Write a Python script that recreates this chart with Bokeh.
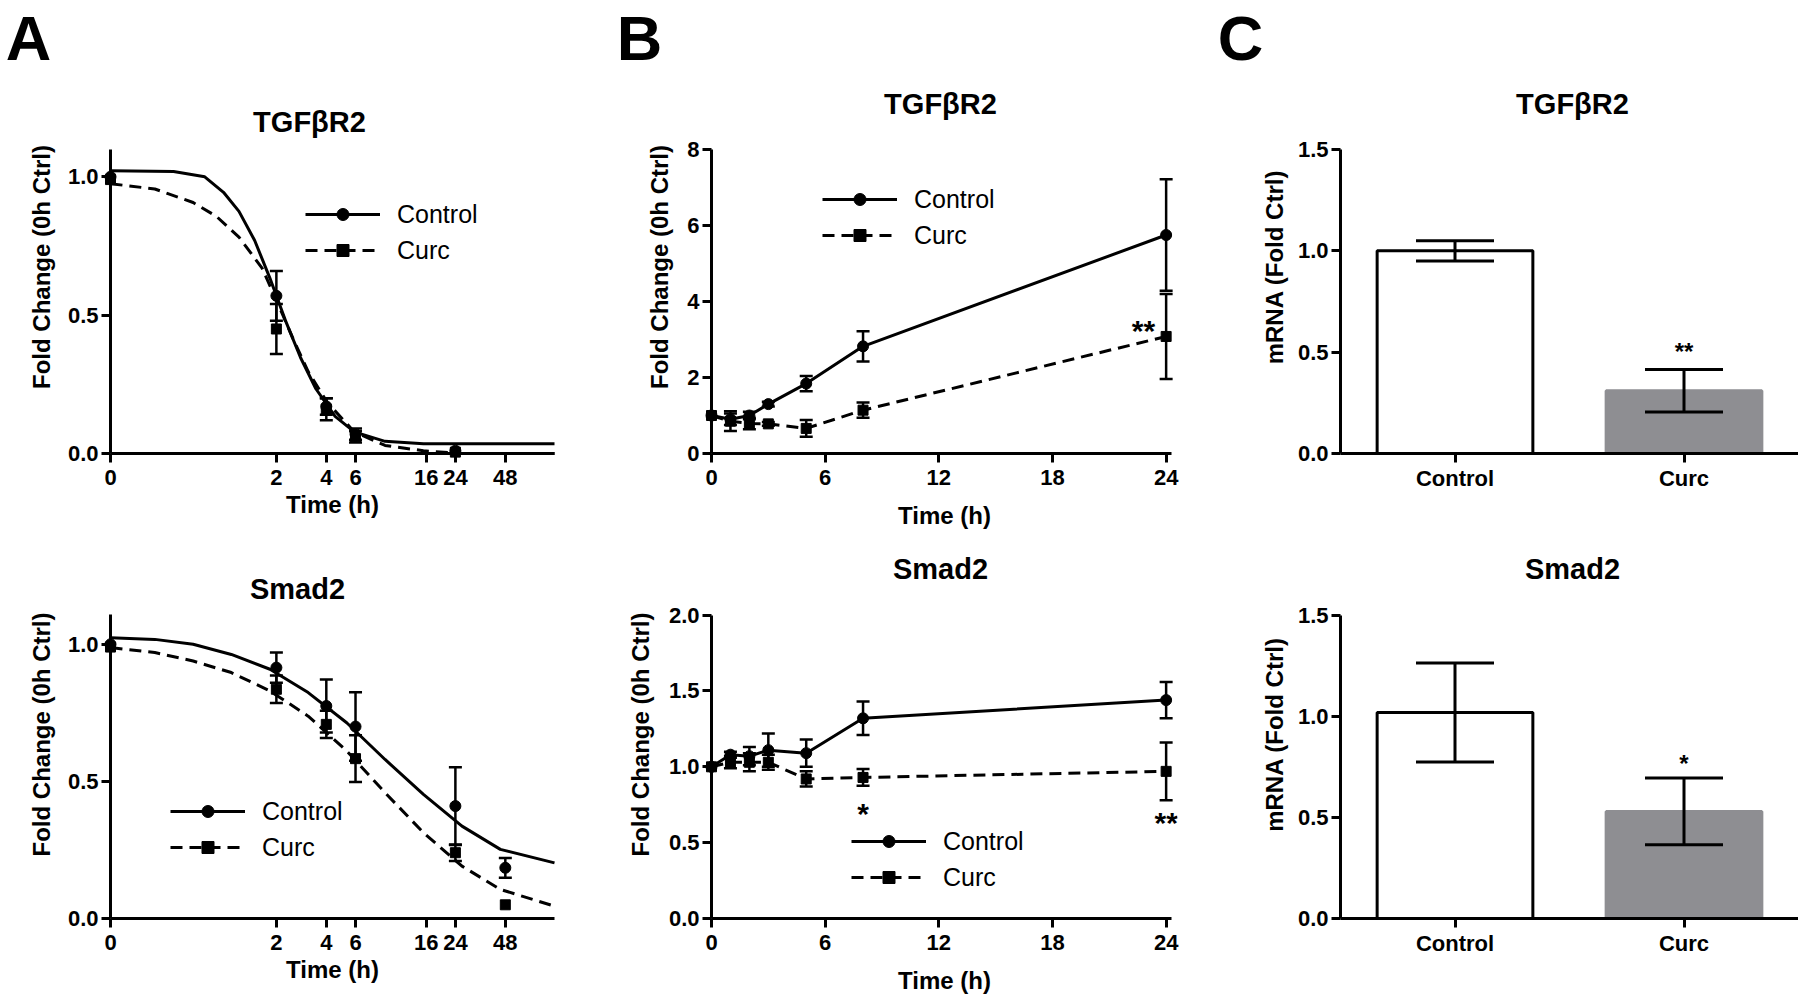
from bokeh.plotting import figure
from bokeh.layouts import row, column
from bokeh.models import (Range1d, FactorRange, FixedTicker, PrintfTickFormatter,
                          CustomJSTickFormatter, Legend, LegendItem, Whisker,
                          TeeHead, ColumnDataSource)
from bokeh.core.properties import value
from bokeh.embed import file_html
from bokeh.resources import INLINE

FONT = "Liberation Sans"

# ---------------- Panel A : mRNA decay (log time axis) ----------------
a_tgf_times = [0, 2, 4, 6, 24]
a_tgf_ctrl = [1.00, 0.57, 0.17, 0.07, 0.01]
a_tgf_ctrl_err = [0.0, 0.09, 0.03, 0.02, 0.0]
a_tgf_curc = [0.99, 0.45, 0.16, 0.06, 0.005]
a_tgf_curc_err = [0.0, 0.09, 0.04, 0.02, 0.0]

# fitted curves
a_tgf_fit_ctrl_t = [0.2, 0.48, 0.74, 0.96, 1.19, 1.48, 1.83, 2.26, 2.80, 3.46, 4.52, 5.90, 9.04, 15.4, 95]
a_tgf_fit_ctrl = [1.022, 1.019, 1.0, 0.944, 0.875, 0.77, 0.633, 0.483, 0.346, 0.234, 0.134, 0.078, 0.044, 0.035, 0.035]
a_tgf_fit_curc_t = [0.2, 0.37, 0.63, 0.87, 1.19, 1.64, 2.03, 2.52, 3.11, 4.06, 5.90, 9.04, 15.4, 26.3, 95]
a_tgf_fit_curc = [0.975, 0.956, 0.907, 0.857, 0.782, 0.67, 0.545, 0.415, 0.296, 0.184, 0.078, 0.029, 0.01, 0.0, 0.0]

a_smad_times = [0, 2, 4, 6, 24, 48]
a_smad_ctrl = [1.00, 0.915, 0.775, 0.70, 0.41, 0.185]
a_smad_ctrl_err = [0.0, 0.055, 0.097, 0.125, 0.142, 0.036]
a_smad_curc = [0.99, 0.836, 0.708, 0.583, 0.24, 0.05]
a_smad_curc_err = [0.0, 0.05, 0.05, 0.085, 0.03, 0.0]

a_smad_fit_t = [0.2, 0.37, 0.63, 1.07, 1.83, 3.11, 5.31, 9.04, 15.4, 26.3, 44.8, 95]
a_smad_fit_ctrl = [1.024, 1.018, 1.0, 0.963, 0.909, 0.824, 0.714, 0.58, 0.453, 0.337, 0.252, 0.203]
a_smad_fit_curc = [0.988, 0.97, 0.939, 0.897, 0.83, 0.738, 0.611, 0.459, 0.313, 0.191, 0.106, 0.045]

a_time_ticks = [0, 2, 4, 6, 16, 24, 48]
a_y_ticks = [0, 0.5, 1.0]

# ---------------- Panel B : time course (linear) ----------------
b_times = [0, 1, 2, 3, 5, 8, 24]
b_tgf_ctrl = [1.0, 0.90, 1.0, 1.30, 1.84, 2.82, 5.75]
b_tgf_ctrl_err = [0.0, 0.15, 0.10, 0.06, 0.20, 0.40, 1.47]
b_tgf_curc = [1.0, 0.85, 0.79, 0.78, 0.66, 1.14, 3.08]
b_tgf_curc_err = [0.0, 0.26, 0.15, 0.05, 0.22, 0.20, 1.12]

b_smad_ctrl = [1.0, 1.08, 1.07, 1.11, 1.09, 1.32, 1.44]
b_smad_ctrl_err = [0.0, 0.02, 0.06, 0.11, 0.09, 0.11, 0.12]
b_smad_curc = [1.0, 1.03, 1.03, 1.03, 0.92, 0.93, 0.97]
b_smad_curc_err = [0.0, 0.04, 0.06, 0.05, 0.05, 0.055, 0.19]

b_time_ticks = [0, 6, 12, 18, 24]
b_tgf_y_ticks = [0, 2, 4, 6, 8]
b_smad_y_ticks = [0, 0.5, 1.0, 1.5, 2.0]

# significance marks (text, time, y)
b_tgf_sig = (["**"], [22.8], [3.42])
b_smad_sig = (["*", "**"], [8, 24], [0.74, 0.68])

# ---------------- Panel C : bar charts ----------------
c_groups = ["Control", "Curc"]
c_tgf_mean = [1.00, 0.31]
c_tgf_err = [0.05, 0.105]
c_smad_mean = [1.02, 0.53]
c_smad_err = [0.245, 0.165]
c_y_ticks = [0, 0.5, 1.0, 1.5]
c_tgf_sig = (["**"], ["Curc"], [0.53])
c_smad_sig = (["*"], ["Curc"], [0.79])

panel_letters = ["A", "B", "C"]

# ---------------- styles / layout (pixels) ----------------
BAR_FILL = ["white", "#8e8e92"]
BAR_LINE = ["black", "#8e8e92"]
DASH = "12 7"
ZERO_POS = 0.2            # where t = 0 sits on the log time axis
LETTER_PX = [28, 639, 1240]
LETTER_CY = 37
HEADER_H = 75
COLS = [(0, 605), (605, 1200), (1200, 1798)]
ROWS = [(HEADER_H, 540), (540, 998)]


def log_pos(ts):
    return [t if t > 0 else ZERO_POS for t in ts]


def style_axis(ax, label, label_standoff, tick_standoff):
    ax.axis_label = label
    ax.axis_line_width = 3
    ax.axis_line_color = "black"
    ax.major_tick_line_width = 3
    ax.major_tick_line_color = "black"
    ax.major_tick_out = 9
    ax.major_tick_in = 0
    ax.minor_tick_line_color = None
    ax.major_label_text_font = FONT
    ax.major_label_text_font_style = "bold"
    ax.major_label_text_font_size = "22px"
    ax.major_label_text_color = "black"
    ax.major_label_standoff = tick_standoff
    ax.axis_label_text_font = FONT
    ax.axis_label_text_font_style = "bold"
    ax.axis_label_text_font_size = "24px"
    ax.axis_label_text_color = "black"
    ax.axis_label_standoff = label_standoff


def y_end_for(frame_top, axis_top_px, axis_bottom_px, axis_top_value, start=0.0):
    # extend the y range above the drawn axis so the title fits inside the frame
    per_px = (axis_top_value - start) / (axis_bottom_px - axis_top_px)
    return start + per_px * (axis_bottom_px - frame_top)


def make_fig(col, rw, frame, x_range, y_range, x_axis_type="auto"):
    (cx0, cx1), (ry0, ry1) = col, rw
    fl, fr, ft, fb = frame
    p = figure(width=cx1 - cx0, height=ry1 - ry0, x_range=x_range, y_range=y_range,
               x_axis_type=x_axis_type, output_backend="svg",
               toolbar_location=None, tools="", title_location=None,
               min_border_left=fl - cx0, min_border_right=cx1 - fr,
               min_border_top=ft - ry0, min_border_bottom=ry1 - fb)
    p.grid.visible = False
    p.outline_line_color = None
    p.background_fill_color = "white"
    p.border_fill_color = "white"
    return p


def add_title(p, anchor_x, anchor_px, y_end, frame_top, px, py, text):
    p.text(x=[anchor_x], y=[y_end], text=[text], x_offset=px - anchor_px,
           y_offset=py - frame_top, text_font=value(FONT), text_font_size="29px",
           text_font_style="bold", text_align="center", text_baseline="middle",
           text_color="black")


def add_errors(p, xs, ys, errs, cap, lw=2.5):
    bx, up, lo = [], [], []
    for x, y, e in zip(xs, ys, errs):
        if e > 0:
            bx.append(x)
            up.append(y + e)
            lo.append(y - e)
    src = ColumnDataSource(dict(base=bx, upper=up, lower=lo))
    p.add_layout(Whisker(source=src, base="base", upper="upper", lower="lower",
                         level="annotation", line_width=lw, line_color="black",
                         upper_head=TeeHead(size=cap, line_width=lw, line_color="black"),
                         lower_head=TeeHead(size=cap, line_width=lw, line_color="black")))


def add_legend(p, frame, items, left_px, top_px):
    fl, fr, ft, fb = frame
    box_h = 2 * 30 + 6
    leg = Legend(items=items, location=(left_px - fl, fb - (top_px + box_h)),
                 glyph_width=75, glyph_height=30, label_height=30,
                 label_standoff=17, spacing=6, padding=0, margin=0,
                 border_line_color=None, background_fill_alpha=0,
                 label_text_font=FONT, label_text_font_size="25px",
                 label_text_color="black")
    p.add_layout(leg)


def add_sig(p, sig, size, yoff):
    texts, xs, ys = sig
    p.text(x=xs, y=ys, text=texts, text_font=value(FONT), text_font_size=f"{size}px",
           text_font_style="bold", text_align="center", text_baseline="middle",
           y_offset=yoff, text_color="black")


def series(p, xs, ys, fit_x, fit_y, dashed, marker, size):
    kw = dict(line_dash=DASH) if dashed else {}
    ln = p.line(fit_x, fit_y, line_width=3, line_color="black", level="overlay", **kw)
    sc = p.scatter(xs, ys, marker=marker, size=size, color="black", level="overlay")
    return ln, sc


# ======================= header with panel letters =======================
hdr = figure(width=1798, height=HEADER_H, x_range=Range1d(0, 1798), y_range=Range1d(0, HEADER_H),
             output_backend="svg", toolbar_location=None, tools="", title_location=None,
             min_border=0, x_axis_location=None, y_axis_location=None)
hdr.grid.visible = False
hdr.outline_line_color = None
hdr.text(x=LETTER_PX, y=[HEADER_H - LETTER_CY] * 3, text=panel_letters, text_font=value(FONT),
         text_font_size="63px", text_font_style="bold", text_align="center",
         text_baseline="middle", text_color="black")


# ======================= Panel A =======================
def panel_a(rw, frame, axis_top_px, axis_top_val, title, title_xy,
            times, ctrl, ctrl_err, curc, curc_err,
            fit_ctrl_t, fit_ctrl, fit_curc_t, fit_curc, legend_xy):
    fl, fr, ft, fb = frame
    y_end = y_end_for(ft, axis_top_px, fb, axis_top_val)
    p = make_fig(COLS[0], rw, frame, Range1d(ZERO_POS, 95), Range1d(0, y_end), "log")
    xa, ya = p.xaxis[0], p.yaxis[0]
    style_axis(xa, "Time (h)", 3, 7)
    style_axis(ya, "Fold Change (0h Ctrl)", 10, 3)
    xa.ticker = FixedTicker(ticks=log_pos(a_time_ticks))
    xa.formatter = CustomJSTickFormatter(code="return tick < 1 ? '0' : tick.toFixed(0);")
    ya.ticker = FixedTicker(ticks=a_y_ticks)
    ya.formatter = PrintfTickFormatter(format="%.1f")
    ya.bounds = (0, axis_top_val)

    xs = log_pos(times)
    add_errors(p, xs, ctrl, ctrl_err, 13)
    add_errors(p, xs, curc, curc_err, 13)
    lc, sc = series(p, xs, ctrl, fit_ctrl_t, fit_ctrl, False, "circle", 11)
    ld, sd = series(p, xs, curc, fit_curc_t, fit_curc, True, "square", 10)
    add_legend(p, frame, [LegendItem(label="Control", renderers=[lc, sc]),
                          LegendItem(label="Curc", renderers=[ld, sd])], *legend_xy)
    add_title(p, ZERO_POS, fl, y_end, ft, title_xy[0], title_xy[1], title)
    return p


pA1 = panel_a(ROWS[0], (110, 554, 80, 455), 149, 1.1, "TGFβR2", (309, 121),
              a_tgf_times, a_tgf_ctrl, a_tgf_ctrl_err, a_tgf_curc, a_tgf_curc_err,
              a_tgf_fit_ctrl_t, a_tgf_fit_ctrl, a_tgf_fit_curc_t, a_tgf_fit_curc,
              (305, 201))

pA2 = panel_a(ROWS[1], (110, 554, 550, 920), 614, 1.11, "Smad2", (297, 588),
              a_smad_times, a_smad_ctrl, a_smad_ctrl_err, a_smad_curc, a_smad_curc_err,
              a_smad_fit_t, a_smad_fit_ctrl, a_smad_fit_t, a_smad_fit_curc,
              (170, 798))


# ======================= Panel B =======================
def panel_b(rw, frame, axis_top_px, y_ticks, y_fmt, title, title_xy, ctrl, ctrl_err,
            curc, curc_err, legend_xy, label_standoff_x, label_standoff_y, sig):
    fl, fr, ft, fb = frame
    y_end = y_end_for(ft, axis_top_px, fb, y_ticks[-1])
    p = make_fig(COLS[1], rw, frame, Range1d(0, 24.6), Range1d(0, y_end))
    xa, ya = p.xaxis[0], p.yaxis[0]
    style_axis(xa, "Time (h)", label_standoff_x, 7)
    style_axis(ya, "Fold Change (0h Ctrl)", label_standoff_y, 3)
    xa.ticker = FixedTicker(ticks=b_time_ticks)
    xa.bounds = (0, 24.3)
    ya.ticker = FixedTicker(ticks=y_ticks)
    if y_fmt:
        ya.formatter = PrintfTickFormatter(format=y_fmt)
    ya.bounds = (0, y_ticks[-1])

    add_errors(p, b_times, ctrl, ctrl_err, 13)
    add_errors(p, b_times, curc, curc_err, 13)
    lc, sc = series(p, b_times, ctrl, b_times, ctrl, False, "circle", 11)
    ld, sd = series(p, b_times, curc, b_times, curc, True, "square", 10)
    add_legend(p, frame, [LegendItem(label="Control", renderers=[lc, sc]),
                          LegendItem(label="Curc", renderers=[ld, sd])], *legend_xy)
    add_sig(p, sig, 30, 7)
    add_title(p, 0, fl, y_end, ft, title_xy[0], title_xy[1], title)
    return p


pB1 = panel_b(ROWS[0], (711, 1177, 80, 453), 149, b_tgf_y_ticks, None,
              "TGFβR2", (940, 103), b_tgf_ctrl, b_tgf_ctrl_err, b_tgf_curc, b_tgf_curc_err,
              (822, 184), 14, 11, b_tgf_sig)

pB2 = panel_b(ROWS[1], (711, 1177, 550, 920), 615, b_smad_y_ticks, "%.1f",
              "Smad2", (940, 568), b_smad_ctrl, b_smad_ctrl_err, b_smad_curc, b_smad_curc_err,
              (851, 828), 14, 12, b_smad_sig)


# ======================= Panel C =======================
def panel_c(rw, frame, axis_top_px, title, title_xy, means, errs, sig):
    fl, fr, ft, fb = frame
    y_end = y_end_for(ft, axis_top_px, fb, c_y_ticks[-1])
    p = make_fig(COLS[2], rw, frame, FactorRange(factors=c_groups), Range1d(0, y_end))
    xa, ya = p.xaxis[0], p.yaxis[0]
    style_axis(xa, None, 0, 3)
    xa.axis_label = None
    style_axis(ya, "mRNA (Fold Ctrl)", 7, 3)
    ya.ticker = FixedTicker(ticks=c_y_ticks)
    ya.formatter = PrintfTickFormatter(format="%.1f")
    ya.bounds = (0, c_y_ticks[-1])
    src = ColumnDataSource(dict(group=c_groups, mean=means, fill=BAR_FILL, line=BAR_LINE))
    p.vbar(x="group", top="mean", width=0.68, source=src, fill_color="fill",
           line_color="line", line_width=3)
    add_errors(p, c_groups, means, errs, 78, 3)
    add_sig(p, sig, 24, 5)
    first_center_px = fl + (fr - fl) / (2 * len(c_groups))
    add_title(p, c_groups[0], first_center_px, y_end, ft, title_xy[0], title_xy[1], title)
    return p


pC1 = panel_c(ROWS[0], (1340, 1798, 80, 453), 149, "TGFβR2", (1572, 103),
              c_tgf_mean, c_tgf_err, c_tgf_sig)
pC2 = panel_c(ROWS[1], (1340, 1798, 550, 918), 615, "Smad2", (1572, 568),
              c_smad_mean, c_smad_err, c_smad_sig)

layout = column(hdr,
                row(pA1, pB1, pC1, spacing=0),
                row(pA2, pB2, pC2, spacing=0), spacing=0)

with open("out.html", "w") as f:
    f.write(file_html(layout, INLINE))
